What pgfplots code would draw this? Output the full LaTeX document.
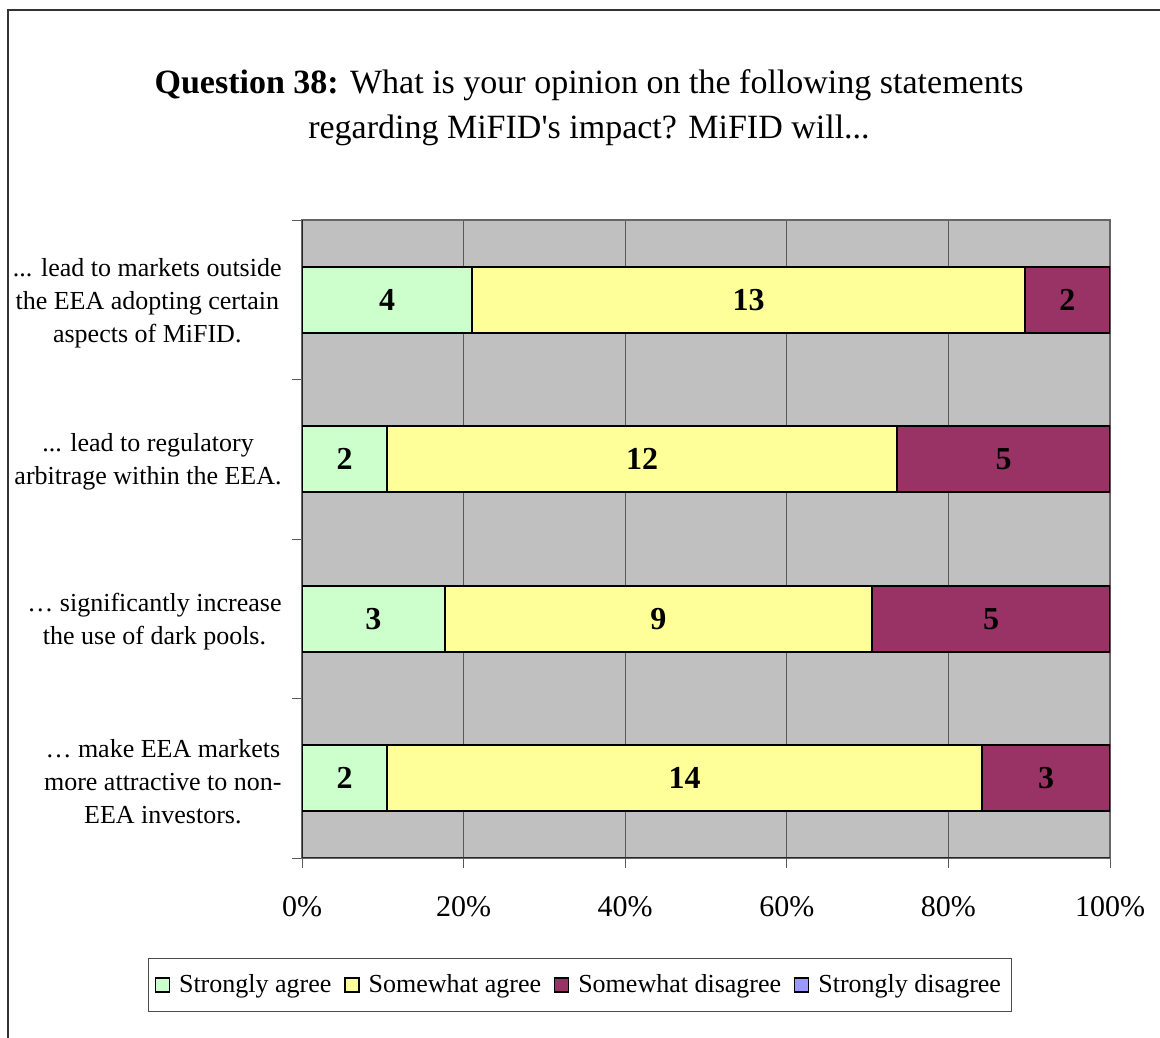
\documentclass[border=0pt]{standalone}
\usepackage{pgfplots}
\usepackage{pgfplotstable}
\pgfplotsset{compat=1.18}
\usepackage{fontspec}
\setmainfont{Liberation Serif}
\definecolor{sa}{HTML}{CCFFCC}
\definecolor{sma}{HTML}{FFFF99}
\definecolor{smd}{HTML}{993366}
\definecolor{sd}{HTML}{9999FF}
\definecolor{bg}{HTML}{C0C0C0}
\newcommand\ddd{...}
\pgfplotstableread{
y p1 p2 p3 c1 c2 c3
0 10.526 73.684 15.789 2 14 3
1 17.647 52.941 29.412 3 9 5
2 10.526 63.158 26.316 2 12 5
3 21.053 68.421 10.526 4 13 2
}\data
\begin{document}
\begin{tikzpicture}
\useasboundingbox (0,0) rectangle (580bp,519bp);
\draw[line width=1bp, black!80] (4bp,-5bp) -- (4bp,514bp) -- (590bp,514bp);
\node[align=center, font=\fontsize{17bp}{22.5bp}\selectfont] at (294.5bp, 465.25bp) {\textbf{Question 38:} What is your opinion on the following statements\\regarding MiFID\textquotesingle s impact? MiFID will\ddd};
\begin{axis}[
 at={(151bp,90bp)}, anchor=south west,
 scale only axis, width=404bp, height=319bp,
 xbar stacked, bar width=33bp,
 xmin=0, xmax=100, ymin=-0.5, ymax=3.5,
 /pgf/number format/assume math mode=true,
 axis background/.style={fill=bg},
 axis line style={draw=black!60, line width=0.6bp},
 xtick={0,20,40,60,80,100},
 xtick pos=bottom, ytick pos=left,
 xticklabel={\pgfmathprintnumber{\tick}\%},
 xticklabel style={font=\fontsize{15bp}{18bp}\selectfont, yshift=-11bp},
 xmajorgrids, major grid style={draw=black!65, line width=0.5bp},
 tick align=outside, major tick length=5bp,
 tick style={draw=black!65, line width=0.5bp},
 ytick={-0.5,0.5,1.5,2.5,3.5}, yticklabels={,,,,},
 extra y ticks={0,1,2,3},
 extra y tick labels={{… make EEA markets\\more attractive to non-\\EEA investors.},{… significantly increase\\the use of dark pools.},{\ddd{} lead to regulatory\\arbitrage within the EEA.},{\ddd{} lead to markets outside\\the EEA adopting certain\\aspects of MiFID.}},
 extra y tick style={major tick length=0pt, tick style={draw=none}},
 yticklabel style={align=center, font=\fontsize{13bp}{16.5bp}\selectfont, inner sep=0pt, xshift=-10bp, yshift=-1.5bp},
 legend style={at={(0.344,-0.199)}, anchor=center, legend columns=4, draw=black!70, fill=white, font=\fontsize{13bp}{15bp}\selectfont, /tikz/every odd column/.append style={column sep=2.5bp}, /tikz/every even column/.append style={column sep=4.5bp}, inner xsep=3bp, inner ysep=6bp},
 legend image code/.code={\draw[#1, draw=black, line width=0.6bp] (0bp,-3.5bp) rectangle (7bp,3.5bp);},
 every node near coord/.append style={anchor=center, font=\bfseries\fontsize{16bp}{18bp}\selectfont, text=black},
]
\addplot[fill=sa, draw=black, line width=1bp, point meta=explicit, nodes near coords]
  table[x=p1, y=y, meta=c1]{\data};
\addplot[fill=sma, draw=black, line width=1bp, point meta=explicit, nodes near coords]
  table[x=p2, y=y, meta=c2]{\data};
\addplot[fill=smd, draw=black, line width=1bp, point meta=explicit, nodes near coords]
  table[x=p3, y=y, meta=c3]{\data};
\addlegendimage{fill=sd}
\legend{Strongly agree, Somewhat agree, Somewhat disagree, Strongly disagree}
\draw[black!85, line width=0.8bp] (rel axis cs:0,1) -- (rel axis cs:0,0) -- (rel axis cs:1,0);
\end{axis}
\end{tikzpicture}
\end{document}
